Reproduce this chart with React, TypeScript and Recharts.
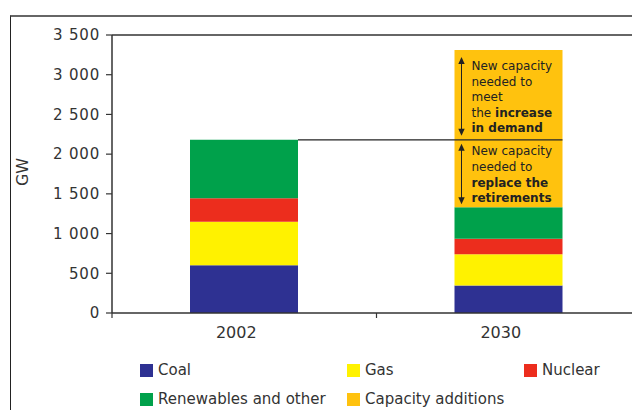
import React from 'react';
import { BarChart, Bar, XAxis, YAxis, ReferenceLine, Legend, LabelList } from 'recharts';

// ---- data ----
const categories = ['2002', '2030'];
const coal = [600, 345];
const gas = [550, 395];
const nuclear = [295, 195];
const renewables = [735, 395];
const additionsRetirements: (number | null)[] = [null, 850];
const additionsDemand: (number | null)[] = [null, 1130];
const yTicks = [0, 500, 1000, 1500, 2000, 2500, 3000, 3500];

const seriesNames = {
  coal: 'Coal',
  gas: 'Gas',
  nuclear: 'Nuclear',
  renewables: 'Renewables and other',
  additions: 'Capacity additions',
};

const data = categories.map((year, i) => ({
  year,
  coal: coal[i],
  gas: gas[i],
  nuclear: nuclear[i],
  renewables: renewables[i],
  retire: additionsRetirements[i],
  demand: additionsDemand[i],
}));

// ---- styles ----
const COLORS = {
  coal: '#2E3192',
  gas: '#FFF200',
  nuclear: '#EC2D1D',
  renewables: '#00A14B',
  additions: '#FFC20E',
};
const FONT = '"DejaVu Sans", Verdana, sans-serif';
const CHART_W = 660;
const CHART_H = 410;
const MARGIN = { top: 35, right: 19, bottom: 0, left: 0 };
const Y_AXIS_W = 112;
const BAND = (CHART_W - MARGIN.left - MARGIN.right - Y_AXIS_W) / categories.length;

const legendItems = [
  { name: seriesNames.coal, color: COLORS.coal },
  { name: seriesNames.gas, color: COLORS.gas },
  { name: seriesNames.nuclear, color: COLORS.nuclear },
  { name: seriesNames.renewables, color: COLORS.renewables },
  { name: seriesNames.additions, color: COLORS.additions },
];
const LEGEND_COLS = [140, 347, 524];

const fmt = (v: number) => String(v).replace(/\B(?=(\d{3})+(?!\d))/g, '\u00a0');

const Arrow = ({ x, y1, y2 }: { x: number; y1: number; y2: number }) => (
  <g>
    <line x1={x} x2={x} y1={y1 + 4} y2={y2 - 4} stroke="#222" strokeWidth={1} />
    <polygon points={`${x},${y1} ${x - 3.2},${y1 + 7} ${x + 3.2},${y1 + 7}`} fill="#222" />
    <polygon points={`${x},${y2} ${x - 3.2},${y2 - 7} ${x + 3.2},${y2 - 7}`} fill="#222" />
  </g>
);

const getBox = (props: any) => {
  const vb = props.viewBox || {};
  return {
    x: Number(vb.x ?? props.x),
    y: Number(vb.y ?? props.y),
    width: Number(vb.width ?? props.width),
    height: Number(vb.height ?? props.height),
  };
};

const hasValue = (props: any) => {
  const v = props.value;
  if (v == null) return false;
  if (Array.isArray(v)) return v[1] != null && v[1] !== v[0];
  return Number(v) > 0;
};

const textStyle = { fontFamily: FONT, fontSize: 12, fill: '#222' } as const;

const DemandNote = (props: any) => {
  if (!hasValue(props)) return null;
  const { x, y, width, height } = getBox(props);
  if (!(height > 0)) return null;
  const bottom = y + height;
  const tx = x + 17;
  const lines: { t: React.ReactNode; dy: number }[] = [
    { t: 'New capacity', dy: 16 },
    { t: 'needed to', dy: 31.5 },
    { t: 'meet', dy: 47 },
    { t: <>the <tspan fontWeight="bold">increase</tspan></>, dy: 62.5 },
    { t: <tspan fontWeight="bold">in demand</tspan>, dy: 78 },
  ];
  return (
    <g>
      <line x1={x + width - BAND} x2={x + width} y1={bottom} y2={bottom} stroke="#222" strokeWidth={1.4} />
      <Arrow x={x + 7} y1={y + 7} y2={bottom - 4} />
      {lines.map((l, i) => (
        <text key={i} x={tx} y={y + l.dy + 4} {...textStyle}>{l.t}</text>
      ))}
    </g>
  );
};

const RetireNote = (props: any) => {
  if (!hasValue(props)) return null;
  const { x, y, height } = getBox(props);
  if (!(height > 0)) return null;
  const bottom = y + height;
  const tx = x + 17;
  const lines: { t: string; dy: number; bold?: boolean }[] = [
    { t: 'New capacity', dy: 11 },
    { t: 'needed to', dy: 27 },
    { t: 'replace the', dy: 43, bold: true },
    { t: 'retirements', dy: 58, bold: true },
  ];
  return (
    <g>
      <Arrow x={x + 7} y1={y + 4} y2={bottom - 3} />
      {lines.map((l, i) => (
        <text key={i} x={tx} y={y + l.dy + 4} {...textStyle} fontWeight={l.bold ? 'bold' : 'normal'}>{l.t}</text>
      ))}
    </g>
  );
};

const XTick = (props: any) => {
  const { x, y, payload } = props;
  return (
    <g>
      <line x1={x - BAND / 2} x2={x - BAND / 2} y1={y} y2={y + 5} stroke="#333" strokeWidth={1.2} />
      <text x={x - 8} y={y + 25} textAnchor="middle" fontFamily={FONT} fontSize={16} fill="#333">
        {payload.value}
      </text>
    </g>
  );
};

const LegendContent = () => (
  <div style={{ position: 'relative', width: 632, height: 55, fontFamily: FONT, fontSize: 15, color: '#333' }}>
    {legendItems.map((it, i) => {
      const col = i % 3;
      const row = Math.floor(i / 3);
      return (
        <div
          key={it.name}
          style={{
            position: 'absolute',
            left: LEGEND_COLS[col],
            top: row === 0 ? 6 : 35,
            display: 'flex',
            alignItems: 'center',
            height: 18,
            whiteSpace: 'nowrap',
          }}
        >
          <span style={{ display: 'inline-block', width: 13, height: 13, background: it.color, marginRight: 5 }} />
          <span>{it.name}</span>
        </div>
      );
    })}
  </div>
);

export default function App() {
  return (
    <div style={{ position: 'absolute', left: 0, top: 0, width: 632, height: 410, overflow: 'hidden', background: '#fff' }}>
      <div
        style={{
          position: 'absolute',
          left: 10,
          top: 15,
          width: 640,
          height: 420,
          borderTop: '2px solid #666',
          borderLeft: '1.5px solid #222',
          boxSizing: 'border-box',
        }}
      />
      <div style={{ position: 'absolute', left: 0, top: 0 }}>
        <BarChart width={CHART_W} height={CHART_H} data={data} margin={MARGIN} barSize={108}>
          <ReferenceLine y={3500} stroke="#666" strokeWidth={2} />
          <XAxis
            dataKey="year"
            height={42}
            axisLine={{ stroke: '#333', strokeWidth: 1.5 }}
            tickLine={false}
            tickSize={0}
            tickMargin={0}
            tick={<XTick />}
            interval={0}
          />
          <YAxis
            width={Y_AXIS_W}
            domain={[0, 3500]}
            ticks={yTicks}
            tickFormatter={fmt}
            axisLine={{ stroke: '#333', strokeWidth: 1.5 }}
            tickLine={{ stroke: '#333', strokeWidth: 1.2 }}
            tickSize={6}
            tickMargin={6}
            tick={{ fontFamily: FONT, fontSize: 15, fill: '#333', letterSpacing: 0.8 }}
            label={{
              content: () => (
                <text transform="translate(28,172) rotate(-90)" textAnchor="middle" fontFamily={FONT} fontSize={16} fill="#333">
                  GW
                </text>
              ),
            }}
          />
          <Legend verticalAlign="bottom" content={<LegendContent />} wrapperStyle={{ left: 0, top: 355, width: 632, height: 55 }} />
          <Bar dataKey="coal" name={seriesNames.coal} stackId="a" fill={COLORS.coal} isAnimationActive={false} />
          <Bar dataKey="gas" name={seriesNames.gas} stackId="a" fill={COLORS.gas} isAnimationActive={false} />
          <Bar dataKey="nuclear" name={seriesNames.nuclear} stackId="a" fill={COLORS.nuclear} isAnimationActive={false} />
          <Bar dataKey="renewables" name={seriesNames.renewables} stackId="a" fill={COLORS.renewables} isAnimationActive={false} />
          <Bar dataKey="retire" name={seriesNames.additions} stackId="a" fill={COLORS.additions} isAnimationActive={false}>
            <LabelList dataKey="retire" content={(p: any) => <RetireNote {...p} />} />
          </Bar>
          <Bar dataKey="demand" name={seriesNames.additions} stackId="a" fill={COLORS.additions} isAnimationActive={false} legendType="none">
            <LabelList dataKey="demand" content={(p: any) => <DemandNote {...p} />} />
          </Bar>
        </BarChart>
      </div>
    </div>
  );
}
